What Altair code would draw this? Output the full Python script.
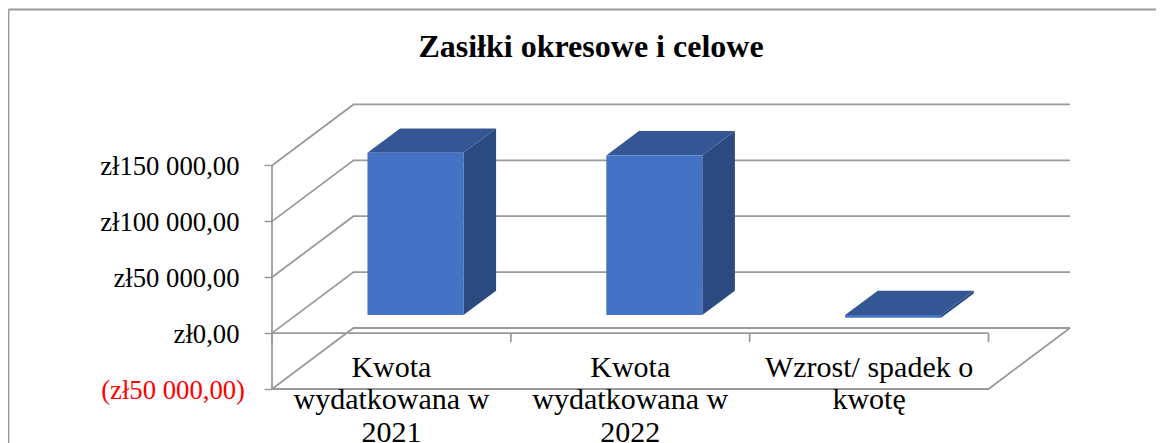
import altair as alt
import pandas as pd

TITLE = "Zasiłki okresowe i celowe"
CATEGORIES = ["Kwota\nwydatkowana w\n2021", "Kwota\nwydatkowana w\n2022", "Wzrost/ spadek o\nkwotę"]
VALUES = [145200, 142800, -2400]
Y_TICKS = [-50000, 0, 50000, 100000, 150000]
Y_LABELS = ["(zł50 000,00)", "zł0,00", "zł50 000,00", "zł100 000,00", "zł150 000,00"]

SERIF = "Liberation Serif"
GREY = "#9a9a9a"
FRONT, SIDE, TOP = "#4472C4", "#2A4A80", "#345694"

# Oblique projection of the Excel 3-D box, expressed in axis units
DEPTH_X = 0.3413       # category units per unit of depth
DEPTH_Y = 54600        # value units per unit of depth
BAR_WIDTH = 0.402
D0, D1 = 0.295, 0.695
YMIN, YMAX = -50000, 204100
N = len(CATEGORIES)


def proj(cat, val, d=0.0):
    return cat + DEPTH_X * d, val + DEPTH_Y * d


# wall, floor and axis lines
lines = []


def add_line(name, pts):
    for i, (c, v, d) in enumerate(pts):
        x, y = proj(c, v, d)
        lines.append({"g": name, "i": i, "x": x, "y": y})


for v in Y_TICKS:
    add_line(f"grid{v}", [(0, v, 0), (0, v, 1), (N, v, 1)])
add_line("wall", [(0, Y_TICKS[0], 0), (0, Y_TICKS[-1], 0)])
add_line("floor", [(0, Y_TICKS[0], 0), (N, Y_TICKS[0], 0), (N, Y_TICKS[0], 1)])
add_line("zero", [(0, 0, 0), (N, 0, 0)])
for k in range(N + 1):
    add_line(f"tick{k}", [(k, 0, 0), (k, -8000, 0)])

front, side, top = [], [], []
for k, val in enumerate(VALUES):
    hi, lo = max(val, 0), min(val, 0)
    c0 = k + 0.5 - BAR_WIDTH / 2
    c1 = k + 0.5 + BAR_WIDTH / 2
    x0, y_hi = proj(c0, hi, D0)
    x1, y_lo = proj(c1, lo, D0)
    front.append({"x": x0, "x2": x1, "y": y_hi, "y2": y_lo})
    for d in (D0, D1):
        sx, sy_hi = proj(c1, hi, d)
        _, sy_lo = proj(c1, lo, d)
        side.append({"k": k, "x": sx, "y": sy_hi, "y2": sy_lo})
        tx0, ty = proj(c0, hi, d)
        tx1, _ = proj(c1, hi, d)
        top.append({"k": k, "x": tx0, "x2": tx1, "y": ty})

labels = [{"x": k + 0.5, "y": -39100, "t": c} for k, c in enumerate(CATEGORIES)]
negative_labels = [{"y": t, "t": s} for t, s in zip(Y_TICKS, Y_LABELS) if t < 0]

X_SCALE = alt.Scale(domain=[0, N + DEPTH_X], nice=False, zero=False)
Y_SCALE = alt.Scale(domain=[YMIN, YMAX], nice=False, zero=False)

# The bracketed negative label sits a little further right (Excel's number
# format), so the axis prints the positive ones and a text layer the negative.
label_expr = " : ".join(
    f"datum.value == {t} ? '{s}'" for t, s in zip(Y_TICKS, Y_LABELS) if t >= 0
) + " : ''"

y_axis = alt.Axis(
    values=Y_TICKS,
    labelExpr=label_expr,
    labelColor="#000000",
    labelFont=SERIF,
    labelFontSize=26.7,
    labelPadding=25,
    labelOverlap=False,
    labelFlush=False,
    labelBound=False,
    labelLimit=300,
    labelBaseline="middle",
    labelOffset=1.5,
    tickColor=GREY,
    tickWidth=1.5,
    tickSize=8,
    domain=False,
    grid=False,
    title=None,
)
X = alt.X("x:Q", scale=X_SCALE, axis=None, stack=False)
Y = alt.Y("y:Q", scale=Y_SCALE, axis=y_axis, stack=False)

line_layer = alt.Chart(pd.DataFrame(lines)).mark_line(
    color=GREY, strokeWidth=1.8, strokeJoin="miter"
).encode(x=X, y=Y, detail="g:N", order="i:Q")

side_layers = [
    alt.Chart(pd.DataFrame([r for r in side if r["k"] == k])).mark_area(
        color=SIDE, opacity=1, orient="vertical"
    ).encode(x=X, y=Y, y2="y2:Q")
    for k in range(N)
]
top_layers = [
    alt.Chart(pd.DataFrame([r for r in top if r["k"] == k])).mark_area(
        color=TOP, opacity=1, orient="horizontal"
    ).encode(y=Y, x=X, x2="x2:Q")
    for k in range(N)
]
front_layer = alt.Chart(pd.DataFrame(front)).mark_rect(color=FRONT).encode(
    x=X, x2="x2:Q", y=Y, y2="y2:Q"
)
text_layer = alt.Chart(pd.DataFrame(labels)).mark_text(
    font=SERIF, fontSize=30, color="#000000", lineBreak="\n", lineHeight=32.5,
    align="center", baseline="alphabetic",
).encode(x=X, y=Y, text="t:N")
negative_layer = alt.Chart(pd.DataFrame(negative_labels)).mark_text(
    font=SERIF, fontSize=26.7, color="#ff0000", align="right", baseline="middle", dy=1.5,
).encode(x=alt.value(-27), y=Y, text="t:N")

frame = alt.Chart(pd.DataFrame({"a": [0]}))
frame_top = frame.mark_rule(color=GREY, strokeWidth=1.8).encode(
    x=alt.value(-263.5), x2=alt.value(884), y=alt.value(-95.5)
)
frame_left = frame.mark_rule(color=GREY, strokeWidth=1.8).encode(
    x=alt.value(-263.5), y=alt.value(-95.5), y2=alt.value(338)
)

chart = alt.layer(
    frame_top, frame_left, line_layer, *side_layers, *top_layers, front_layer,
    text_layer, negative_layer,
).properties(
    width=798,
    height=284,
    padding={"left": 264, "top": 97, "right": 86, "bottom": 54},
    autosize=alt.AutoSizeParams(type="none"),
    title=alt.TitleParams(
        text=TITLE, font=SERIF, fontSize=32, fontWeight="bold", color="#000000",
        anchor="middle", frame="group", baseline="alphabetic", dx=-80, dy=80, offset=0,
    ),
).configure_view(stroke=None)

chart.save("out.html", embed_options={"renderer": "svg", "actions": False})
